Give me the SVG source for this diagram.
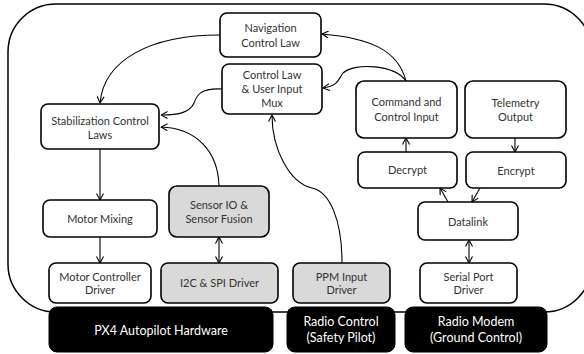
<svg xmlns="http://www.w3.org/2000/svg" width="584" height="354" viewBox="0 0 584 354">
<defs>
<style>
.n rect{fill:#fff;stroke:#000;stroke-width:1.6}
.g rect{fill:#d9d9d9}
.h rect{fill:#000;stroke:#000}
text{font-family:Lato,"Open Sans","Liberation Sans",sans-serif;font-size:11px;text-anchor:middle;fill:#333}
.h text{fill:#fff;font-size:12.5px}
.c path{fill:none;stroke:#000;stroke-width:1.1}
</style>
<marker id="a" viewBox="0 0 8 8" refX="7.5" refY="4" markerWidth="8" markerHeight="8" markerUnits="userSpaceOnUse" orient="auto-start-reverse">
<path d="M1,0.5 L7.5,4 L1,7.5" fill="none" stroke="#000" stroke-width="1.1"/>
</marker>
</defs>
<rect x="8" y="4" width="584" height="308" rx="48" fill="none" stroke="#000" stroke-width="1.5"/>
<g class="c">
<path d="M220,35 C150,35 104,60 100,103" marker-end="url(#a)"/>
<path d="M222,89 C200,88 197,95 194,103 C190,112 180,115 161,115" marker-end="url(#a)"/>
<path d="M219,186 C218,150 195,128 161,127" marker-end="url(#a)"/>
<path d="M342,263 C342,220 330,192 312,188 C290,183 272,150 272,115" marker-end="url(#a)"/>
<path d="M406,81 C398,50 370,38 322,34" marker-end="url(#a)"/>
<path d="M406,81 C395,65 355,62 343,73 C338,80 338,86 323,88" marker-end="url(#a)"/>
<path d="M406,152 L406,138" marker-end="url(#a)"/>
<path d="M515,138 L515,152" marker-end="url(#a)"/>
<path d="M448,202 L440,188" marker-end="url(#a)"/>
<path d="M480,188 L472,202" marker-end="url(#a)"/>
<path d="M469,240 L469,263" marker-start="url(#a)" marker-end="url(#a)"/>
<path d="M219,237 L219,263" marker-start="url(#a)" marker-end="url(#a)"/>
<path d="M100,149 L100,200" marker-end="url(#a)"/>
<path d="M100,237 L100,263" marker-end="url(#a)"/>
</g>
<g id="nav" class="n"><rect x="220" y="13" width="101" height="44" rx="7"/><text x="270.5" y="32">Navigation</text><text x="270.5" y="47">Control Law</text></g>
<g id="mux" class="n"><rect x="222" y="64" width="100" height="50" rx="7"/><text x="272" y="79">Control Law</text><text x="272" y="93">&amp; User Input</text><text x="272" y="107">Mux</text></g>
<g id="stab" class="n"><rect x="41" y="104" width="118" height="45" rx="7"/><text x="100" y="125">Stabilization Control</text><text x="100" y="139">Laws</text></g>
<g id="cmd" class="n"><rect x="356" y="81" width="101" height="57" rx="8"/><text x="406.5" y="106">Command and</text><text x="406.5" y="121">Control Input</text></g>
<g id="tel" class="n"><rect x="465" y="81" width="101" height="57" rx="8"/><text x="515.5" y="107">Telemetry</text><text x="515.5" y="121">Output</text></g>
<g id="dec" class="n"><rect x="358" y="152" width="99" height="36" rx="7"/><text x="407.5" y="174">Decrypt</text></g>
<g id="enc" class="n"><rect x="466" y="152" width="100" height="36" rx="7"/><text x="516" y="175">Encrypt</text></g>
<g id="dl" class="n"><rect x="418" y="202" width="100" height="38" rx="7"/><text x="468" y="226">Datalink</text></g>
<g id="ser" class="n"><rect x="420" y="263" width="97" height="40" rx="7"/><text x="468.5" y="281">Serial Port</text><text x="468.5" y="294">Driver</text></g>
<g id="ppm" class="n g"><rect x="293" y="263" width="97" height="40" rx="7"/><text x="341.5" y="281">PPM Input</text><text x="341.5" y="294">Driver</text></g>
<g id="mix" class="n"><rect x="43" y="200" width="114" height="37" rx="7"/><text x="100" y="223">Motor Mixing</text></g>
<g id="mcd" class="n"><rect x="49" y="263" width="102" height="40" rx="7"/><text x="100" y="281">Motor Controller</text><text x="100" y="294">Driver</text></g>
<g id="sens" class="n g"><rect x="169" y="186" width="100" height="51" rx="8"/><text x="219" y="209">Sensor IO &amp;</text><text x="219" y="223">Sensor Fusion</text></g>
<g id="i2c" class="n g"><rect x="161" y="263" width="117" height="40" rx="7"/><text x="219.5" y="287">I2C &amp; SPI Driver</text></g>
<g id="px4" class="h"><rect x="49" y="307" width="224" height="45" rx="8"/><text x="161" y="335">PX4 Autopilot Hardware</text></g>
<g id="rc" class="h"><rect x="287" y="307" width="108" height="45" rx="8"/><text x="341" y="326">Radio Control</text><text x="341" y="342">(Safety Pilot)</text></g>
<g id="rm" class="h"><rect x="405" y="307" width="142" height="45" rx="8"/><text x="476" y="326">Radio Modem</text><text x="476" y="342">(Ground Control)</text></g>
</svg>
